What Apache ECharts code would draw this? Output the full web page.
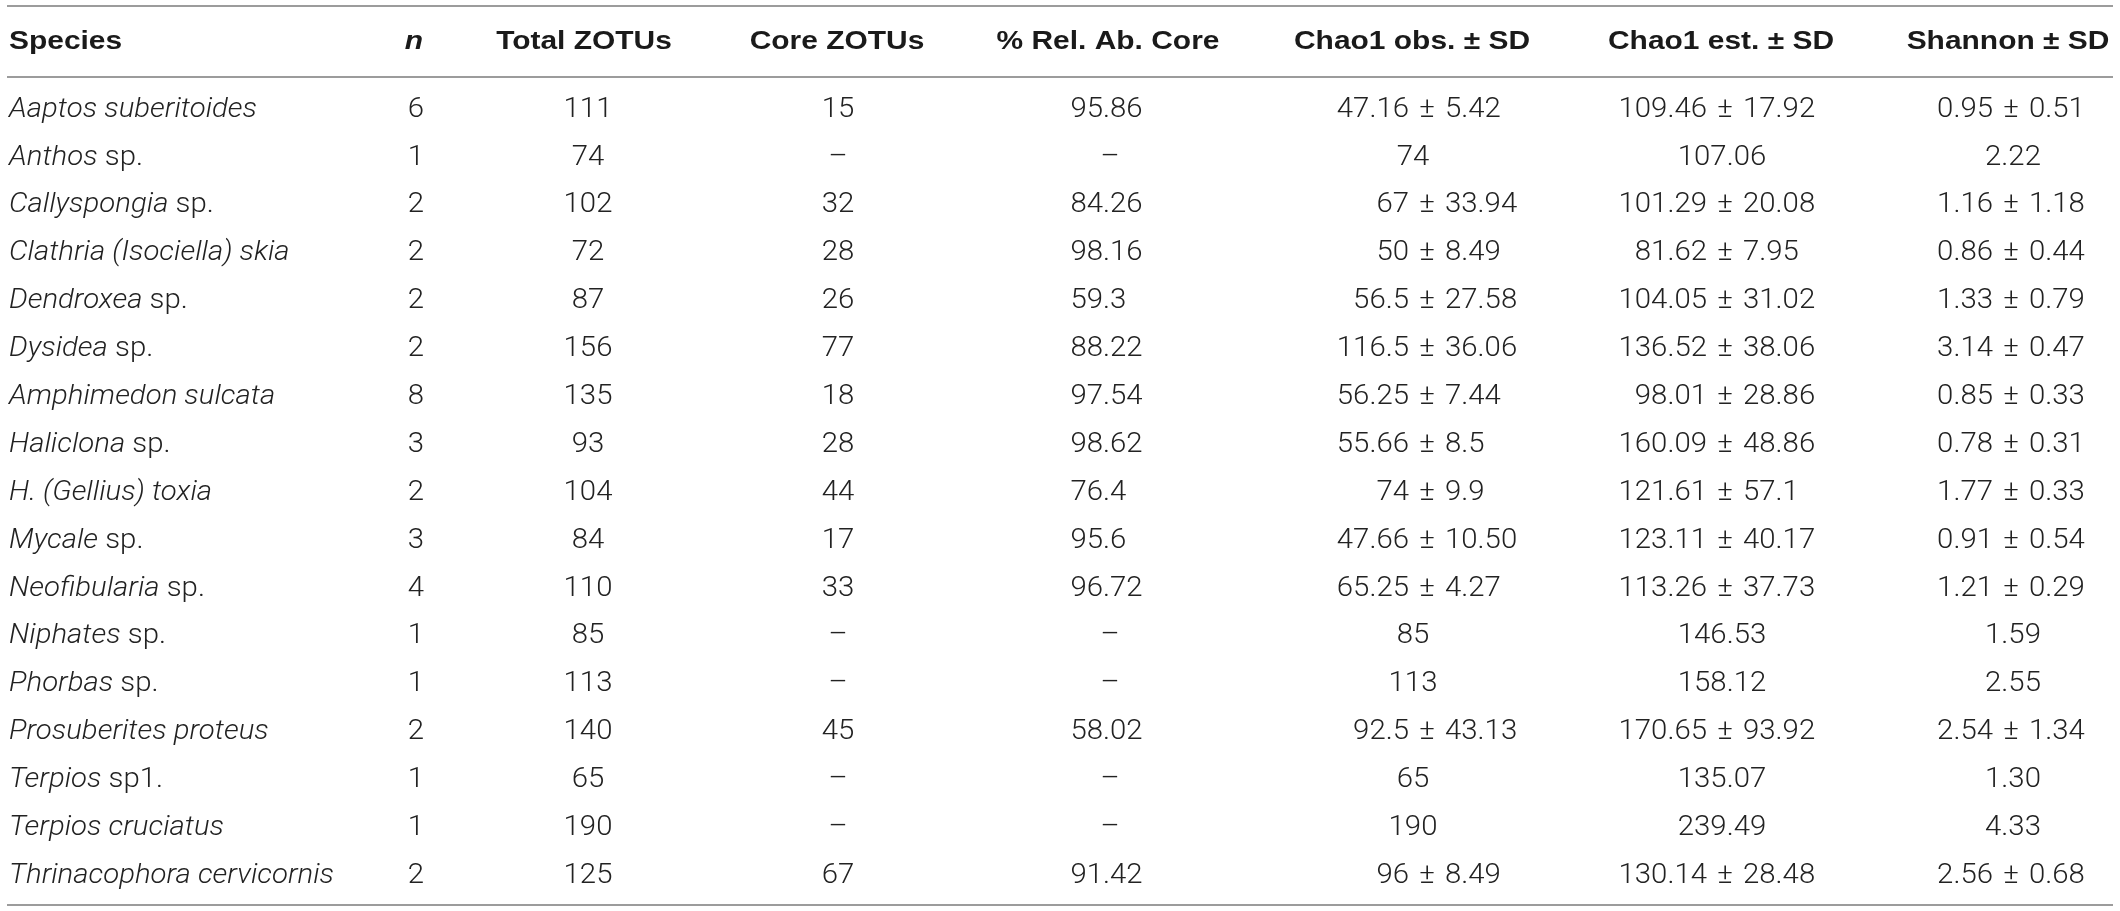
<!DOCTYPE html>
<html>
<head>
<meta charset="utf-8">
<script src="https://cdn.jsdelivr.net/npm/echarts@6/dist/echarts.min.js"></script>
<style>
  html, body { margin: 0; padding: 0; background: #fff; }
  #main { width: 2120px; height: 911px; }
</style>
</head>
<body>
<div id="main"></div>
<script>
// table content
var headers = ['Species', 'n', 'Total ZOTUs', 'Core ZOTUs', '% Rel. Ab. Core',
               'Chao1 obs. \u00b1 SD', 'Chao1 est. \u00b1 SD', 'Shannon \u00b1 SD'];
var species = ['Aaptos suberitoides', 'Anthos sp.', 'Callyspongia sp.', 'Clathria (Isociella) skia',
               'Dendroxea sp.', 'Dysidea sp.', 'Amphimedon sulcata', 'Haliclona sp.',
               'H. (Gellius) toxia', 'Mycale sp.', 'Neofibularia sp.', 'Niphates sp.',
               'Phorbas sp.', 'Prosuberites proteus', 'Terpios sp1.', 'Terpios cruciatus',
               'Thrinacophora cervicornis'];
var nSamples = [6, 1, 2, 2, 2, 2, 8, 3, 2, 3, 4, 1, 1, 2, 1, 1, 2];
var totalZotus = [111, 74, 102, 72, 87, 156, 135, 93, 104, 84, 110, 85, 113, 140, 65, 190, 125];
var coreZotus = [15, null, 32, 28, 26, 77, 18, 28, 44, 17, 33, null, null, 45, null, null, 67];
var relAbCore = ['95.86', null, '84.26', '98.16', '59.3', '88.22', '97.54', '98.62', '76.4',
                 '95.6', '96.72', null, null, '58.02', null, null, '91.42'];
var chaoObs = ['47.16', '74', '67', '50', '56.5', '116.5', '56.25', '55.66', '74', '47.66',
               '65.25', '85', '113', '92.5', '65', '190', '96'];
var chaoObsSd = ['5.42', null, '33.94', '8.49', '27.58', '36.06', '7.44', '8.5', '9.9', '10.50',
                 '4.27', null, null, '43.13', null, null, '8.49'];
var chaoEst = ['109.46', '107.06', '101.29', '81.62', '104.05', '136.52', '98.01', '160.09',
               '121.61', '123.11', '113.26', '146.53', '158.12', '170.65', '135.07', '239.49', '130.14'];
var chaoEstSd = ['17.92', null, '20.08', '7.95', '31.02', '38.06', '28.86', '48.86', '57.1',
                 '40.17', '37.73', null, null, '93.92', null, null, '28.48'];
var shannon = ['0.95', '2.22', '1.16', '0.86', '1.33', '3.14', '0.85', '0.78', '1.77', '0.91',
               '1.21', '1.59', '2.55', '2.54', '1.30', '4.33', '2.56'];
var shannonSd = ['0.51', null, '1.18', '0.44', '0.79', '0.47', '0.33', '0.31', '0.33', '0.54',
                 '0.29', null, null, '1.34', null, null, '0.68'];

// layout (pixels on the 0..2120 x axis)
var colAnchor = [9, 416, 588, 838, 1103, 1427, 1725, 2011];
var colMode = ['species', 'center', 'center', 'center', 'decimal', 'pm', 'pm', 'pm'];
var singleShift = [0, 0, 0, 0, 7, -14, -3, 2];
var headCenter = [9, 414, 584, 837, 1108, 1412, 1721, 2008];
var DASH = '\u2013';
var TEXT = '#222';

var bodyFont = 'Roboto';
var headFont = '"Liberation Sans", Arial, sans-serif';
var bodySize = 27, headSize = 26;

var ctx = document.createElement('canvas').getContext('2d');
function textWidth(font, s) { ctx.font = font; return ctx.measureText(s).width; }
var bodySx = 248 / textWidth('italic 300 ' + bodySize + 'px ' + bodyFont, 'Aaptos suberitoides');
var headSx = 236 / textWidth('bold ' + headSize + 'px ' + headFont, 'Chao1 obs. \u00b1 SD');

function pmParts(c, r) {
  if (c === 5) return [chaoObs[r], chaoObsSd[r]];
  if (c === 6) return [chaoEst[r], chaoEstSd[r]];
  return [shannon[r], shannonSd[r]];
}

function plain(text, x, align) {
  return {
    type: 'text',
    style: {
      text: text, x: x, y: 0, align: align, verticalAlign: 'middle',
      fontFamily: bodyFont, fontSize: bodySize, fontWeight: 300, fill: TEXT
    }
  };
}

function speciesText(name) {
  var words = name.split(' ');
  var last = words[words.length - 1];
  if (/^sp/.test(last)) {
    return '{i|' + words.slice(0, -1).join(' ') + '} {r|' + last + '}';
  }
  return '{i|' + name + '}';
}

var cells = [];
for (var r = 0; r < species.length; r++) {
  for (var c = 0; c < headers.length; c++) {
    cells.push({ row: r, col: c });
  }
}

function renderCell(params, api) {
  var cell = cells[params.dataIndex];
  var r = cell.row, c = cell.col;
  var p = api.coord([api.value(0), api.value(1)]);
  var kids = [];
  var mode = colMode[c];
  var shift = singleShift[c] / bodySx;
  if (mode === 'species') {
    kids.push({
      type: 'text',
      style: {
        text: speciesText(species[r]), x: 0, y: 0, align: 'left', verticalAlign: 'middle',
        fontFamily: bodyFont, fontSize: bodySize, fontWeight: 300, fill: TEXT,
        rich: {
          i: { fontFamily: bodyFont, fontSize: bodySize, fontWeight: 300, fontStyle: 'italic', fill: TEXT },
          r: { fontFamily: bodyFont, fontSize: bodySize, fontWeight: 300, fill: TEXT }
        }
      }
    });
  } else if (mode === 'center') {
    var v = c === 1 ? nSamples[r] : c === 2 ? totalZotus[r] : coreZotus[r];
    kids.push(plain(v == null ? DASH : String(v), 0, 'center'));
  } else if (mode === 'decimal') {
    var s = relAbCore[r];
    if (s == null) {
      kids.push(plain(DASH, shift, 'center'));
    } else {
      var k = s.indexOf('.');
      kids.push(plain(s.slice(0, k), 0, 'right'));
      kids.push(plain(s.slice(k), 0, 'left'));
    }
  } else {
    var parts = pmParts(c, r);
    if (parts[1] == null) {
      kids.push(plain(parts[0], shift, 'center'));
    } else {
      var gap = 18 / bodySx;
      kids.push(plain(parts[0], -gap, 'right'));
      kids.push(plain('\u00b1', 0, 'center'));
      kids.push(plain(parts[1], gap, 'left'));
    }
  }
  return { type: 'group', x: p[0], y: p[1], scaleX: bodySx, children: kids };
}

var graphics = [];
function rule(y) {
  graphics.push({
    type: 'line', silent: true,
    shape: { x1: 7, y1: y, x2: 2113, y2: y },
    style: { stroke: '#9c9c9c', lineWidth: 2 }
  });
}
rule(6);
rule(77);
rule(905);
headers.forEach(function (h, i) {
  graphics.push({
    type: 'text', silent: true,
    x: headCenter[i], y: 42, scaleX: headSx,
    style: {
      text: h, x: 0, y: 0,
      align: i === 0 ? 'left' : 'center', verticalAlign: 'middle',
      fontFamily: headFont, fontSize: headSize, fontWeight: 'bold',
      fontStyle: i === 1 ? 'italic' : 'normal', fill: '#1a1a1a'
    }
  });
});

var option = {
  animation: false,
  backgroundColor: '#fff',
  grid: { left: 0, right: 0, top: 86, bottom: 11 },
  xAxis: { type: 'value', min: 0, max: 2120, show: false },
  yAxis: { type: 'category', data: species, inverse: true, show: false },
  graphic: graphics,
  series: [{
    type: 'custom',
    coordinateSystem: 'cartesian2d',
    renderItem: renderCell,
    data: cells.map(function (cell) { return [colAnchor[cell.col], cell.row]; })
  }]
};

var myChart = echarts.init(document.getElementById('main'));
myChart.setOption(option);
</script>
</body>
</html>
